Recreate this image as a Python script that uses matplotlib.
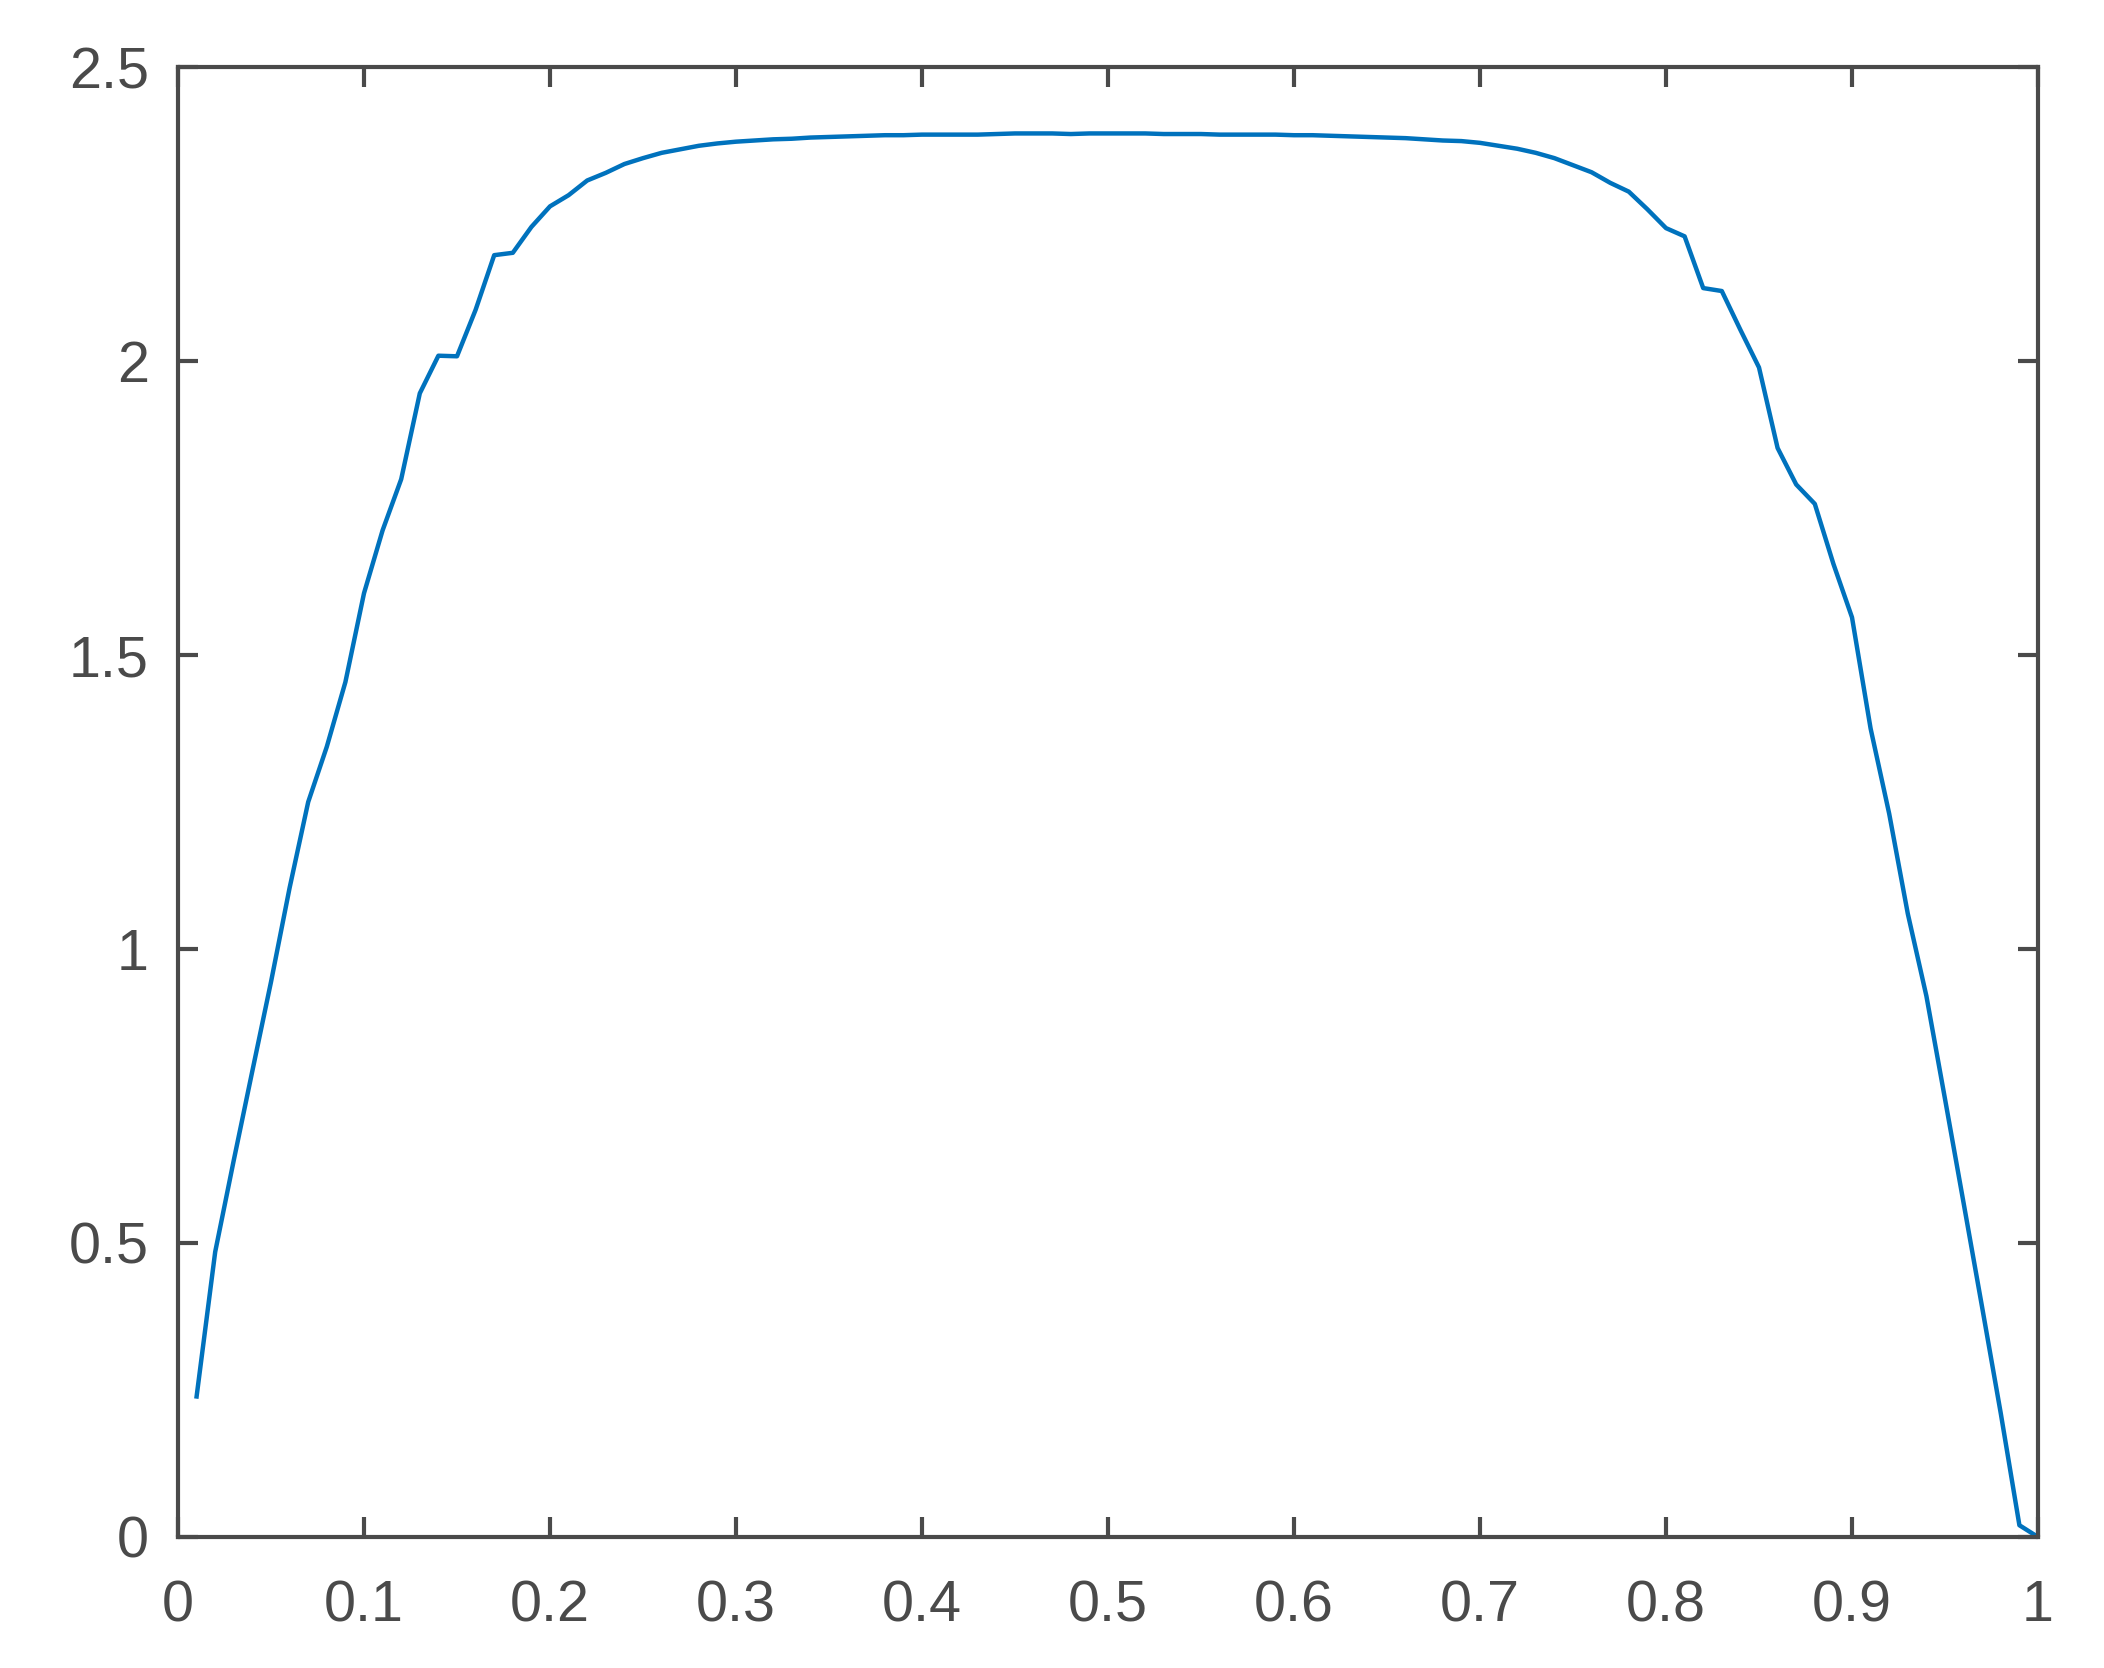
import numpy as np
import matplotlib
matplotlib.use("Agg")
import matplotlib.pyplot as plt

# sample positions and values
x_vals = [0.01, 0.02, 0.03, 0.04, 0.05, 0.06, 0.07, 0.08, 0.09, 0.10,
          0.11, 0.12, 0.13, 0.14, 0.15, 0.16, 0.17, 0.18, 0.19, 0.20,
          0.21, 0.22, 0.23, 0.24, 0.25, 0.26, 0.27, 0.28, 0.29, 0.30,
          0.31, 0.32, 0.33, 0.34, 0.35, 0.36, 0.37, 0.38, 0.39, 0.40,
          0.41, 0.42, 0.43, 0.44, 0.45, 0.46, 0.47, 0.48, 0.49, 0.50,
          0.51, 0.52, 0.53, 0.54, 0.55, 0.56, 0.57, 0.58, 0.59, 0.60,
          0.61, 0.62, 0.63, 0.64, 0.65, 0.66, 0.67, 0.68, 0.69, 0.70,
          0.71, 0.72, 0.73, 0.74, 0.75, 0.76, 0.77, 0.78, 0.79, 0.80,
          0.81, 0.82, 0.83, 0.84, 0.85, 0.86, 0.87, 0.88, 0.89, 0.90,
          0.91, 0.92, 0.93, 0.94, 0.95, 0.96, 0.97, 0.98, 0.99, 1.00]

y_vals = [0.239, 0.485, 0.641, 0.793, 0.944, 1.104, 1.250, 1.344, 1.454, 1.605,
          1.712, 1.799, 1.945, 2.009, 2.008, 2.087, 2.180, 2.184, 2.228, 2.263,
          2.282, 2.307, 2.320, 2.335, 2.345, 2.354, 2.360, 2.366, 2.370, 2.373,
          2.375, 2.377, 2.378, 2.380, 2.381, 2.382, 2.383, 2.384, 2.384, 2.385,
          2.385, 2.385, 2.385, 2.386, 2.387, 2.387, 2.387, 2.386, 2.387, 2.387,
          2.387, 2.387, 2.386, 2.386, 2.386, 2.385, 2.385, 2.385, 2.385, 2.384,
          2.384, 2.383, 2.382, 2.381, 2.380, 2.379, 2.377, 2.375, 2.374, 2.371,
          2.366, 2.361, 2.354, 2.345, 2.333, 2.321, 2.303, 2.288, 2.258, 2.226,
          2.212, 2.124, 2.119, 2.053, 1.989, 1.852, 1.790, 1.757, 1.655, 1.564,
          1.375, 1.230, 1.060, 0.920, 0.745, 0.568, 0.390, 0.210, 0.020, 0.000]

x_ticks = [0, 0.1, 0.2, 0.3, 0.4, 0.5, 0.6, 0.7, 0.8, 0.9, 1]
x_tick_labels = ['0', '0.1', '0.2', '0.3', '0.4', '0.5', '0.6', '0.7', '0.8', '0.9', '1']
y_ticks = [0, 0.5, 1, 1.5, 2, 2.5]
y_tick_labels = ['0', '0.5', '1', '1.5', '2', '2.5']

axis_grey = '#4a4a4a'
plt.rcParams['font.family'] = ['Liberation Sans', 'DejaVu Sans']

fig = plt.figure(figsize=(10.52, 8.34), dpi=200)
ax = fig.add_axes([178 / 2104, 131 / 1668, 1860 / 2104, 1470 / 1668])

ax.plot(x_vals, y_vals, color='#0072BD', linewidth=1.6)

ax.set_xlim(0, 1)
ax.set_ylim(0, 2.5)
ax.set_xticks(x_ticks)
ax.set_xticklabels(x_tick_labels)
ax.set_yticks(y_ticks)
ax.set_yticklabels(y_tick_labels)

for side in ax.spines.values():
    side.set_color(axis_grey)
    side.set_linewidth(1.5)

ax.tick_params(axis='both', direction='in', length=7.2, width=1.5,
               color=axis_grey, labelcolor=axis_grey, labelsize=20.7,
               top=True, right=True)
ax.tick_params(axis='x', pad=15.2)
ax.tick_params(axis='y', pad=10.5)

fig.savefig('out.png', dpi=200)
